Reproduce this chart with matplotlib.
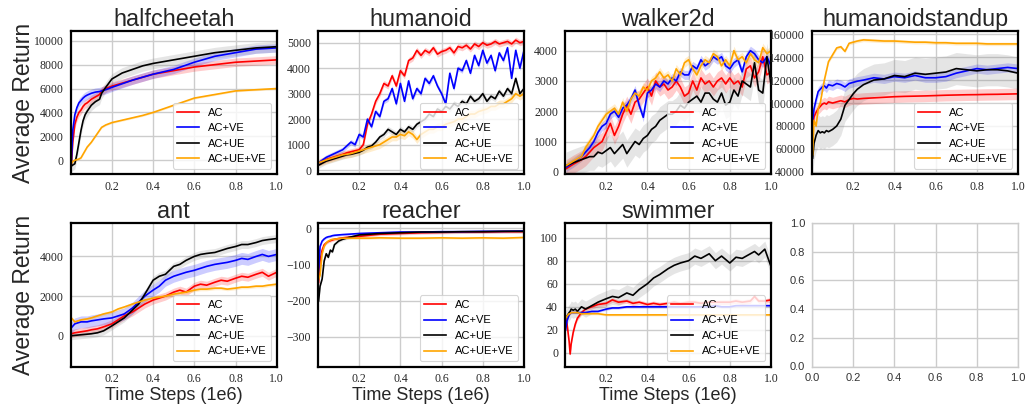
import matplotlib
matplotlib.use("Agg")
import numpy as np
import matplotlib.pyplot as plt

labels = ["AC", "AC+VE", "AC+UE", "AC+UE+VE"]
colors = ["red", "blue", "black", "orange"]
band_colors = ["red", "blue", "gray", "orange"]

# ---------------- halfcheetah
hc_x = [0.003, 0.01, 0.02, 0.03, 0.04, 0.05, 0.06, 0.07, 0.08, 0.1, 0.12, 0.14, 0.15, 0.17, 0.2, 0.25, 0.3,
        0.35, 0.4, 0.45, 0.5, 0.55, 0.6, 0.65, 0.7, 0.75, 0.8, 0.85, 0.9, 0.95, 1.0]
hc_ac = [-400, 1500, 3000, 3600, 4000, 4200, 4500, 4700, 4800, 5100, 5300, 5500, 5800, 6000, 6200, 6450, 6700,
         6950, 7200, 7350, 7500, 7650, 7800, 7900, 8000, 8100, 8200, 8250, 8300, 8350, 8400]
hc_acve = [-300, 2500, 3800, 4400, 4800, 5000, 5200, 5350, 5450, 5600, 5700, 5750, 5800, 5900, 6100, 6400, 6700,
           6950, 7200, 7400, 7600, 7900, 8200, 8450, 8700, 8850, 9000, 9150, 9300, 9350, 9400]
hc_acue = [-500, -400, -300, 500, 1500, 2500, 3300, 3800, 4100, 4600, 4900, 5100, 5600, 6100, 6800, 7300, 7600,
           7900, 8100, 8250, 8400, 8550, 8700, 8850, 9000, 9100, 9200, 9300, 9400, 9450, 9500]
hc_acueve = [-300, -100, 0, 50, 100, 200, 500, 800, 1100, 1500, 2000, 2500, 2750, 2950, 3150, 3350, 3550,
             3750, 4000, 4300, 4600, 4900, 5200, 5350, 5500, 5650, 5800, 5850, 5900, 5950, 6000]
hc_sd = [350, 350, 450, 80]

# ---------------- humanoid
hu_x = [0.005, 0.04, 0.08, 0.12, 0.14, 0.16, 0.18, 0.2, 0.22, 0.24, 0.26, 0.28, 0.3, 0.32, 0.34, 0.36, 0.38,
        0.4, 0.42, 0.44, 0.46, 0.48, 0.5, 0.52, 0.54, 0.56, 0.58, 0.6, 0.62, 0.64, 0.66, 0.68, 0.7, 0.72, 0.74,
        0.76, 0.78, 0.8, 0.82, 0.84, 0.86, 0.88, 0.9, 0.92, 0.94, 0.96, 0.98, 1.0]
hu_ac = [300, 420, 520, 620, 680, 720, 760, 800, 1000, 1800, 2200, 2700, 3000, 3400, 3300, 3700, 3300,
         3900, 3700, 4300, 4400, 4700, 4500, 4700, 4600, 4800, 4550, 4650, 4700, 4800, 4600, 4850, 4800, 4900, 4750,
         4950, 4850, 5000, 4900, 4950, 5050, 4950, 5000, 5050, 4950, 5100, 5000, 5050]
hu_acve = [300, 500, 650, 800, 950, 1100, 1000, 1400, 1300, 2000, 1700, 2300, 2100, 2700, 2800, 3200, 2600,
           3400, 2700, 3500, 2800, 3200, 3000, 3600, 3400, 3700, 3300, 3000, 2600, 3800, 3200, 4000, 3900, 4300, 3800,
           4500, 4100, 4700, 4200, 4500, 3900, 4600, 4300, 4800, 3600, 4700, 4000, 4700]
hu_acue = [200, 350, 450, 550, 600, 620, 660, 700, 780, 900, 950, 1100, 1300, 1400, 1600, 1500, 1400,
           1600, 1500, 1700, 1600, 1800, 1900, 2000, 2200, 2100, 2400, 2300, 2500, 2400, 2600, 2500, 2700, 2600, 2900,
           2700, 2800, 3000, 2700, 2900, 2800, 3100, 2900, 3200, 3000, 3600, 3000, 3200]
hu_acueve = [300, 400, 500, 600, 620, 650, 700, 750, 800, 850, 900, 950, 1000, 1100, 1200, 1300, 1300,
             1400, 1350, 1500, 1400, 1200, 1400, 1500, 1600, 1600, 1700, 1700, 1800, 1850, 1900, 2000, 2000, 2100, 2200,
             2200, 2300, 2350, 2400, 2500, 2500, 2600, 2600, 2700, 2800, 3000, 2900, 3000]
hu_sd = [120, 100, 120, 150]

# ---------------- walker2d
wa_x = [0.005, 0.04, 0.08, 0.1, 0.12, 0.14, 0.16, 0.18, 0.2, 0.22, 0.24, 0.26, 0.28, 0.3, 0.32, 0.34, 0.36,
        0.38, 0.4, 0.42, 0.44, 0.46, 0.48, 0.5, 0.52, 0.54, 0.56, 0.58, 0.6, 0.62, 0.64, 0.66, 0.68, 0.7, 0.72,
        0.74, 0.76, 0.78, 0.8, 0.82, 0.84, 0.86, 0.88, 0.9, 0.92, 0.94, 0.96, 0.98, 1.0]
wa_ac = [100, 250, 400, 500, 650, 800, 900, 1000, 1300, 1600, 1200, 1500, 1900, 2200, 1900, 2300, 2400,
         2600, 2800, 2500, 3000, 2800, 2900, 2700, 2800, 3000, 2800, 2500, 2600, 3000, 2700, 3100, 2900, 3000, 2800,
         3000, 3100, 2900, 3100, 2900, 3000, 2800, 3400, 3500, 3100, 3300, 3800, 3200, 3300]
wa_acve = [150, 300, 500, 650, 800, 1000, 1300, 1500, 1600, 1900, 2000, 1800, 2100, 2200, 2400, 2700, 2200,
           1800, 2600, 2700, 2900, 2800, 3000, 2900, 3100, 3000, 3300, 3200, 3200, 3500, 3400, 3700, 3500, 3600, 3800,
           3700, 3800, 3500, 3400, 3600, 3700, 3300, 3800, 4000, 3900, 3700, 3600, 3800, 3500]
wa_acue = [200, 300, 400, 450, 500, 500, 650, 600, 700, 800, 600, 750, 900, 600, 800, 1000, 900,
           1100, 1200, 1400, 1500, 1700, 1800, 1900, 1900, 2000, 2200, 2100, 2300, 2400, 2500, 2300, 2600, 2600, 2400,
           2300, 2600, 2200, 2300, 2700, 2500, 3000, 2900, 2800, 3600, 2700, 2600, 3800, 2900]
wa_acueve = [200, 350, 500, 800, 1000, 1200, 1500, 1700, 1900, 2000, 2100, 1900, 2300, 2000, 2400, 2600, 2500,
             2800, 2700, 3000, 3100, 3300, 3100, 3200, 3000, 3400, 3200, 3600, 3700, 3400, 3200, 3500, 3700, 3600, 3900,
             3800, 3500, 3700, 3500, 4000, 3700, 3800, 3600, 3900, 3700, 3600, 4100, 3900, 4000]
wa_sd = [300, 150, 450, 150]

# ---------------- humanoidstandup
hs_x = [0.003, 0.01, 0.02, 0.03, 0.04, 0.05, 0.06, 0.07, 0.08, 0.1, 0.12, 0.14, 0.16, 0.18, 0.2, 0.22, 0.25,
        0.3, 0.35, 0.4, 0.45, 0.5, 0.55, 0.6, 0.65, 0.7, 0.75, 0.8, 0.85, 0.9, 0.95, 1.0]
hs_ac = [80000, 88000, 92000, 95000, 97000, 99000, 100000, 99000, 101000, 100000, 101000, 102000, 101000, 103000,
         104000, 103500, 104000, 104500, 105000, 105500, 105800, 106000, 106200, 106500, 106800, 107000, 107200,
         107300, 107500, 107600, 107800, 108000]
hs_acve = [85000, 95000, 103000, 110000, 112000, 114000, 115000, 113000, 116000, 115000, 117000, 116000, 114000,
           117000, 118000, 119000, 120000, 122000, 121000, 123000, 122000, 124000, 122000, 122000, 123000, 126000,
           128000, 130000, 129000, 130000, 131000, 130000]
hs_acue = [52000, 65000, 72000, 76000, 74000, 75000, 74000, 76000, 75000, 77000, 80000, 86000, 98000, 103000,
           108000, 112000, 116000, 120000, 121000, 124000, 123000, 126000, 125000, 126000, 127000, 130000, 129000,
           128000, 129000, 129000, 128000, 126000]
hs_acueve = [55000, 85000, 80000, 95000, 100000, 110000, 120000, 128000, 136000, 142000, 148000, 149000, 145000,
             152000, 153000, 154000, 155000, 154500, 154000, 154000, 153500, 153000, 153000, 152500, 152500, 152000,
             152000, 152000, 151500, 151500, 151500, 151500]
hs_sd = [5000, 4000, 14000, 1500]

# ---------------- ant
an_x = [0.003, 0.02, 0.05, 0.08, 0.1, 0.13, 0.16, 0.2, 0.23, 0.26, 0.3, 0.33, 0.36, 0.4, 0.43, 0.46, 0.5,
        0.53, 0.56, 0.6, 0.63, 0.66, 0.7, 0.73, 0.76, 0.8, 0.83, 0.86, 0.9, 0.93, 0.96, 1.0]
an_ac = [100, 150, 200, 250, 300, 350, 450, 600, 800, 1000, 1200, 1400, 1600, 1800, 1900, 2000, 2200,
         2300, 2200, 2500, 2600, 2550, 2700, 2800, 2750, 2900, 3000, 2950, 3100, 3200, 3000, 3200]
an_acve = [400, 600, 700, 700, 750, 800, 850, 900, 1000, 1100, 1400, 1700, 2000, 2300, 2500, 2800, 3000,
           3100, 3200, 3300, 3400, 3500, 3600, 3650, 3700, 3800, 3900, 3850, 4000, 4100, 4000, 4100]
an_acue = [0, 20, 50, 80, 100, 150, 250, 500, 700, 900, 1300, 1600, 2100, 2800, 3000, 3100, 3500,
           3600, 3800, 4000, 4100, 4150, 4200, 4300, 4400, 4500, 4600, 4600, 4700, 4800, 4850, 4900]
an_acueve = [900, 700, 800, 850, 900, 1000, 1100, 1200, 1350, 1450, 1600, 1700, 1800, 1900, 1950, 2000, 2100,
             2150, 2200, 2300, 2350, 2350, 2400, 2400, 2350, 2400, 2450, 2450, 2500, 2500, 2550, 2600]
an_sd = [200, 300, 200, 80]

# ---------------- reacher
re_x = [0.003, 0.01, 0.02, 0.03, 0.04, 0.05, 0.06, 0.07, 0.08, 0.1, 0.12, 0.15, 0.2, 0.25, 0.3, 0.4, 0.5,
        0.6, 0.7, 0.8, 0.9, 1.0]
re_ac = [-150, -90, -60, -45, -40, -36, -34, -32, -30, -28, -26, -24, -22, -19, -16, -14, -12,
         -11, -10, -10, -9, -9]
re_acve = [-120, -50, -35, -29, -25, -23, -22, -20, -19, -18, -17, -16, -14, -13, -12, -10, -10,
           -9, -9, -8, -8, -7]
re_acue = [-200, -160, -140, -90, -70, -80, -60, -65, -45, -35, -30, -25, -18, -16, -14, -12, -10,
           -10, -9, -9, -8, -8]
re_acueve = [-140, -130, -70, -50, -40, -35, -32, -30, -30, -28, -27, -27, -27, -27, -26, -27, -27,
             -26, -27, -26, -27, -25]
re_sd = [4, 3, 4, 3]

# ---------------- swimmer
sw_x = [0.003, 0.01, 0.02, 0.025, 0.03, 0.04, 0.05, 0.06, 0.08, 0.1, 0.13, 0.16, 0.2, 0.23, 0.26, 0.3, 0.33,
        0.36, 0.4, 0.43, 0.46, 0.5, 0.53, 0.56, 0.6, 0.63, 0.66, 0.7, 0.73, 0.76, 0.8, 0.83, 0.86, 0.9, 0.92,
        0.94, 0.97, 1.0]
sw_ac = [30, 25, 10, -1, 8, 18, 25, 30, 35, 38, 40, 42, 43, 46, 44, 45, 43, 44, 42, 43, 42, 43, 44, 43, 44,
         44, 43, 44, 44, 44, 44, 45, 44, 45, 49, 45, 45, 46]
sw_acve = [20, 28, 33, 34, 35, 35, 35, 35, 35, 35, 36, 36, 38, 39, 39, 40, 40, 40, 40, 40, 40, 40, 40, 40, 40,
           40, 40, 40, 41, 40, 40, 41, 41, 41, 41, 41, 41, 41]
sw_acue = [30, 32, 35, 36, 38, 37, 38, 36, 40, 38, 41, 44, 47, 49, 48, 52, 50, 55, 60, 65, 68, 73, 76, 78, 80,
           84, 82, 86, 80, 84, 78, 83, 82, 86, 88, 85, 90, 75]
sw_acueve = [30, 32, 34, 34, 35, 35, 35, 35, 34, 34, 34, 34, 33, 33, 33, 33, 33, 33, 33, 33, 33, 33, 33, 33, 33,
             33, 33, 33, 33, 33, 33, 33, 33, 33, 33, 33, 33, 33]
sw_sd = [2, 1, 7, 1]

envs = [
    ("halfcheetah", hc_x, [hc_ac, hc_acve, hc_acue, hc_acueve], hc_sd, (-1170, 10840), [0, 2000, 4000, 6000, 8000, 10000]),
    ("humanoid", hu_x, [hu_ac, hu_acve, hu_acue, hu_acueve], hu_sd, (-160, 5470), [0, 1000, 2000, 3000, 4000, 5000]),
    ("walker2d", wa_x, [wa_ac, wa_acve, wa_acue, wa_acueve], wa_sd, (-80, 4660), [0, 1000, 2000, 3000, 4000]),
    ("humanoidstandup", hs_x, [hs_ac, hs_acve, hs_acue, hs_acueve], hs_sd, (38000, 163000),
     [40000, 60000, 80000, 100000, 120000, 140000, 160000]),
    ("ant", an_x, [an_ac, an_acve, an_acue, an_acueve], an_sd, (-1550, 5685), [0, 2000, 4000]),
    ("reacher", re_x, [re_ac, re_acve, re_acue, re_acueve], re_sd, (-382, 15), [-300, -200, -100, 0]),
    ("swimmer", sw_x, [sw_ac, sw_acve, sw_acue, sw_acueve], sw_sd, (-11.8, 112.7), [0, 20, 40, 60, 80, 100]),
]

W, H = 1026, 408
fig = plt.figure(figsize=(W / 100, H / 100), dpi=100)
lefts = [70.7, 318, 565, 812]
tops = [30.7, 223]
aw, ah = 206, 143.5

sans = "Liberation Sans"
serif = "Liberation Serif"
grid_c = "#cccccc"

axes = []
for r in range(2):
    for c in range(4):
        ax = fig.add_axes([lefts[c] / W, 1 - (tops[r] + ah) / H, aw / W, ah / H])
        ax.set_axisbelow(True)
        ax.grid(True, color=grid_c, lw=1.0)
        ax.tick_params(length=0)
        axes.append(ax)

for ax, (name, x, series, sd, ylim, yt) in zip(axes, envs):
    x = np.array(x)
    for ys, s, col, bcol, lab in zip(series, sd, colors, band_colors, labels):
        ys = np.array(ys, dtype=float)
        ax.fill_between(x, ys - s, ys + s, color=bcol, alpha=0.2, lw=0)
        ax.plot(x, ys, color=col, lw=1.2, label=lab)
    ax.set_xlim(0, 1.0)
    ax.set_ylim(*ylim)
    ax.set_xticks([0.2, 0.4, 0.6, 0.8, 1.0])
    ax.set_yticks(yt)
    ax.tick_params(axis="y", pad=5)
    ax.tick_params(axis="x", pad=5)
    for lbl in ax.get_xticklabels() + ax.get_yticklabels():
        lbl.set_fontfamily(serif)
        lbl.set_fontsize(8.5)
        lbl.set_color("#262626")
    for sp in ax.spines.values():
        sp.set_color("black")
        sp.set_linewidth(1.6)
    ax.set_title(name, fontsize=16.8, family=sans, pad=3, color="#262626")
    leg = ax.legend(loc="lower right", prop={"family": sans, "size": 8}, framealpha=0.8,
                    edgecolor="#cccccc", fancybox=True)
    leg.get_frame().set_linewidth(0.8)

# empty last panel
ax = axes[7]
ax.set_xlim(0, 1)
ax.set_ylim(0, 1)
ax.set_xticks([0, 0.2, 0.4, 0.6, 0.8, 1.0])
ax.set_yticks([0, 0.2, 0.4, 0.6, 0.8, 1.0])
ax.tick_params(pad=5, labelsize=8, labelcolor="#333333")
for lbl in ax.get_xticklabels() + ax.get_yticklabels():
    lbl.set_fontfamily(sans)
for sp in ax.spines.values():
    sp.set_color(grid_c)
    sp.set_linewidth(1.0)

for r in range(2):
    fig.text(24 / W, 1 - (tops[r] + ah / 2) / H, "Average Return", rotation=90,
             ha="center", va="center", fontsize=16.5, family=sans, color="#262626")
for c in range(3):
    fig.text((lefts[c] + aw / 2) / W, 1 - 396 / H, "Time Steps (1e6)", ha="center", va="center",
             fontsize=13, family=sans, color="#262626")

fig.savefig("out.png", dpi=100)
